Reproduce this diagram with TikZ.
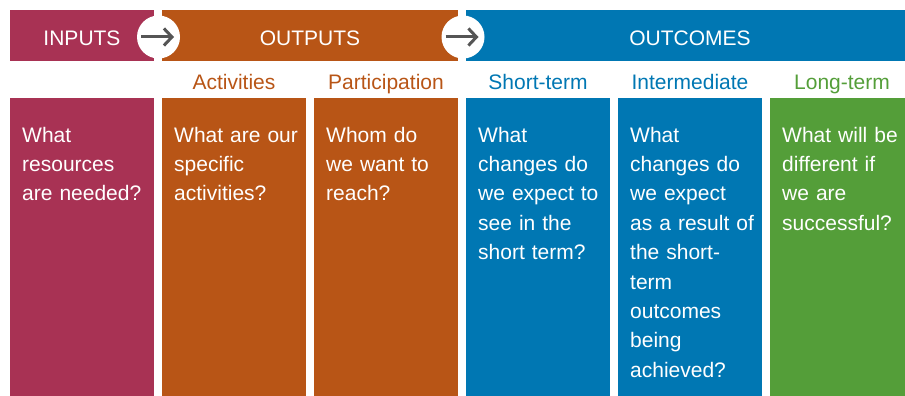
\documentclass[tikz,border=0pt]{standalone}
\usepackage{fontspec}
\setmainfont{Liberation Sans}
\usetikzlibrary{arrows.meta}
\definecolor{cmaroon}{RGB}{168,50,84}
\definecolor{corange}{RGB}{184,85,22}
\definecolor{cblue}{RGB}{0,119,179}
\definecolor{cgreen}{RGB}{84,158,57}
\definecolor{carrow}{RGB}{85,85,85}
\tikzset{
  bar/.style={draw=none, anchor=north west, minimum height=51pt, inner sep=0pt, outer sep=0pt},
  colbox/.style={draw=none, anchor=north west, minimum height=298pt, inner sep=0pt, outer sep=0pt},
  head/.style={text=white, anchor=base, inner sep=0pt, font=\fontsize{21}{25}\selectfont},
  sub/.style={anchor=base, inner sep=0pt, font=\fontsize{21}{25}\selectfont},
  qtext/.style={text=white, anchor=base west, inner sep=0pt, align=left, text width=132pt,
    font=\fontsize{21}{29.4}\selectfont},
  disc/.style={circle, fill=white, draw=none, minimum size=43pt, inner sep=0pt},
  arr/.style={draw=carrow, line width=3pt, -{Straight Barb[length=8pt,width=17pt]}},
}
\begin{document}
\begin{tikzpicture}[x=1pt,y=-1pt]
\useasboundingbox (0,0) rectangle (905,396);
\clip (0,0) rectangle (905,396);
% top bars
\node[bar, fill=cmaroon, minimum width=144pt] (b1) at (10,10) {};
\node[bar, fill=corange, minimum width=296pt] (b2) at (162,10) {};
\node[bar, fill=cblue, minimum width=448pt] (b3) at (466,10) {};
\node[head] (h1) at (82,46) {INPUTS};
\node[head] (h2) at (310,46) {OUTPUTS};
\node[head] (h3) at (690,46) {OUTCOMES};
% circles with arrows
\node[disc] (d1) at (158.5,37) {};
\node[disc] (d2) at (463,37) {};
\coordinate (a1s) at ([xshift=-17.5pt]d1.center);
\coordinate (a1e) at ([xshift=15.5pt]d1.center);
\coordinate (a2s) at ([xshift=-17.5pt]d2.center);
\coordinate (a2e) at ([xshift=15.5pt]d2.center);
\draw[arr] (a1s) -- (a1e);
\draw[arr] (a2s) -- (a2e);
% subheadings
\node[sub, text=corange] (s2) at (234,89) {Activities};
\node[sub, text=corange] (s3) at (386,89) {Participation};
\node[sub, text=cblue] (s4) at (538,89) {Short-term};
\node[sub, text=cblue] (s5) at (690,89) {Intermediate};
\node[sub, text=cgreen] (s6) at (842,89) {Long-term};
% columns
\node[colbox, fill=cmaroon, minimum width=144pt] (c1) at (10,98) {};
\node[colbox, fill=corange, minimum width=144pt] (c2) at (162,98) {};
\node[colbox, fill=corange, minimum width=144pt] (c3) at (314,98) {};
\node[colbox, fill=cblue, minimum width=144pt] (c4) at (466,98) {};
\node[colbox, fill=cblue, minimum width=144pt] (c5) at (618,98) {};
\node[colbox, fill=cgreen, minimum width=144pt] (c6) at (770,98) {};
% column texts
\node[qtext] (t1) at (22,142) {What\\resources\\are needed?};
\node[qtext] (t2) at (174,142) {What are our\\specific\\activities?};
\node[qtext] (t3) at (326,142) {Whom do\\we want to\\reach?};
\node[qtext] (t4) at (478,142) {What\\changes do\\we expect to\\see in the\\short term?};
\node[qtext] (t5) at (630,142) {What\\changes do\\we expect\\as a result of\\the short-\\term\\outcomes\\being\\achieved?};
\node[qtext] (t6) at (782,142) {What will be\\different if\\we are\\successful?};
\end{tikzpicture}
\end{document}
